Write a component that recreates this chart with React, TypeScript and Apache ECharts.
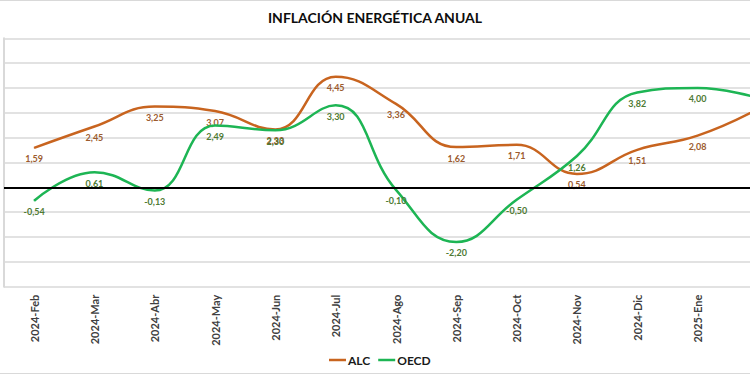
import React, { useEffect, useRef } from "react";
import * as echarts from "echarts";

const categories = [
  "2024-Feb", "2024-Mar", "2024-Abr", "2024-May", "2024-Jun", "2024-Jul",
  "2024-Ago", "2024-Sep", "2024-Oct", "2024-Nov", "2024-Dic", "2025-Ene", "2025-Feb",
];
const alcValues = [1.59, 2.45, 3.25, 3.07, 2.33, 4.45, 3.36, 1.62, 1.71, 0.54, 1.51, 2.08, 3.15];
const oecdValues = [-0.54, 0.61, -0.13, 2.49, 2.3, 3.3, -0.1, -2.2, -0.5, 1.26, 3.82, 4.0, 3.6];
const visibleCount = 12;

const TITLE = "INFLACIÓN ENERGÉTICA ANUAL";
const FONT = "Lato, 'Open Sans', sans-serif";
const ALC_COLOR = "#C8641F";
const OECD_COLOR = "#1DB554";

const fmt = (v: number) => v.toFixed(2).replace(".", ",");

export default function App() {
  const ref = useRef<HTMLDivElement>(null);
  useEffect(() => {
    if (!ref.current) return;
    const chart = echarts.init(ref.current, undefined, { renderer: "svg" });
    const mkData = (vals: number[]) =>
      vals.map((v, i) => (i < visibleCount ? v : { value: v, label: { show: false } }));
    const labelCfg = (color: string) => ({
      show: true,
      position: "bottom",
      distance: 6,
      formatter: (p: any) => fmt(typeof p.value === "number" ? p.value : Number(p.value)),
      fontFamily: FONT,
      fontSize: 9,
      fontWeight: "bold",
      color,
      opacity: 1,
    });
    chart.setOption({
      animation: false,
      backgroundColor: "#ffffff",
      textStyle: { fontFamily: FONT },
      grid: { left: 4, top: 38.3, right: 12, bottom: 88.3, containLabel: false },
      graphic: [
        {
          type: "text",
          x: 375,
          y: 17,
          style: {
            text: TITLE,
            textAlign: "center",
            textVerticalAlign: "middle",
            fontFamily: FONT,
            fontWeight: "bold",
            fontSize: 14,
            fill: "#0d0d0d",
          },
        },
        { type: "line", shape: { x1: 0, y1: 0.5, x2: 800, y2: 0.5 }, style: { stroke: "#d9d9d9", lineWidth: 1 } },
        { type: "line", shape: { x1: 0, y1: 373.5, x2: 800, y2: 373.5 }, style: { stroke: "#d9d9d9", lineWidth: 1 } },
      ],
      legend: {
        left: 324,
        top: 349,
        itemWidth: 17,
        itemHeight: 2.5,
        itemGap: 8,
        icon: "rect",
        textStyle: { fontFamily: FONT, fontSize: 12, fontWeight: "bold", color: "#1a1a1a", padding: [0, 0, 0, -3] },
        data: [
          { name: "ALC", itemStyle: { color: ALC_COLOR } },
          { name: "OECD", itemStyle: { color: OECD_COLOR } },
        ],
      },
      xAxis: {
        type: "category",
        data: categories,
        boundaryGap: true,
        axisLine: { show: false },
        axisTick: { show: false },
        axisLabel: {
          rotate: 90,
          margin: 8,
          fontFamily: FONT,
          fontSize: 11,
          fontWeight: "bold",
          color: "#404040",
          interval: (i: number) => i < visibleCount,
        },
        splitLine: { show: false },
      },
      yAxis: {
        type: "value",
        min: -4,
        max: 6,
        interval: 1,
        axisLabel: { show: false },
        axisTick: { show: false },
        axisLine: { show: true, lineStyle: { color: "#d9d9d9", width: 2 } },
        splitLine: { show: true, lineStyle: { color: "#d9d9d9", width: 1.5 } },
      },
      series: [
        {
          name: "ALC",
          type: "line",
          data: mkData(alcValues),
          smooth: 0.45,
          showSymbol: true,
          symbol: "circle",
          symbolSize: 1,
          itemStyle: { color: ALC_COLOR },
          color: ALC_COLOR,
          lineStyle: { color: ALC_COLOR, width: 2.5 },
          label: labelCfg("#9C5B2E"),
          labelLayout: { hideOverlap: false },
          markLine: {
            silent: true,
            symbol: "none",
            label: { show: false },
            lineStyle: { color: "#000000", width: 2, type: "solid" },
            data: [{ yAxis: 0 }],
          },
          z: 3,
        },
        {
          name: "OECD",
          type: "line",
          data: mkData(oecdValues),
          smooth: 0.45,
          showSymbol: true,
          symbol: "circle",
          symbolSize: 1,
          itemStyle: { color: OECD_COLOR },
          color: OECD_COLOR,
          lineStyle: { color: OECD_COLOR, width: 2.5 },
          label: labelCfg("#4E7A33"),
          labelLayout: { hideOverlap: false },
          z: 4,
        },
      ],
    });
    return () => chart.dispose();
  }, []);
  return (
    <div style={{ position: "fixed", left: 0, top: 0, width: 750, height: 375, overflow: "hidden", background: "#fff" }}>
      <div ref={ref} style={{ width: 800, height: 375 }} />
    </div>
  );
}
